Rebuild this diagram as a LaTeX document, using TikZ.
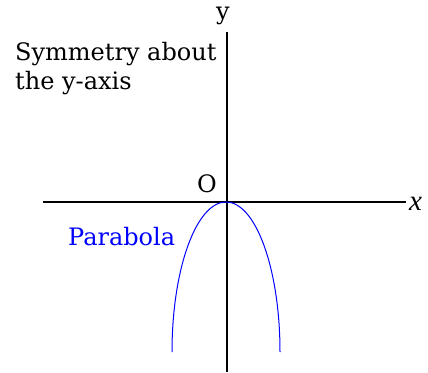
\documentclass[tikz,border=0pt]{standalone}
\usepackage{fontspec}
\setmainfont{DejaVu Serif}
\newfontfamily\xfont{Liberation Serif}
\begin{document}
\begin{tikzpicture}[x=1pt,y=-1pt,
  axis/.style={line width=1.4pt,black},
  curve/.style={line width=1pt,blue},
  lbl/.style={inner sep=0pt,anchor=base west,font=\fontsize{24}{28}\selectfont}]
\useasboundingbox (0,0) rectangle (428,372);
\coordinate (xl) at (43,202);
\coordinate (xr) at (406,202);
\coordinate (yt) at (227,32);
\coordinate (yb) at (227,372);
\draw[axis] (xl) -- (xr);
\draw[axis] (yt) -- (yb);
\node[inner sep=0pt,anchor=base west,font=\xfont\itshape\fontsize{29}{31}\selectfont] (xlab) at (409,210) {x};
\node[lbl] (ylab) at (216,19) {y};
\node[lbl] (olab) at (197,192) {O};
\node[lbl] (sym1) at (15,60) {Symmetry about};
\node[lbl] (sym2) at (15,89) {the y-axis};
\node[lbl,blue] (par) at (68,245) {Parabola};
\coordinate (v) at (226,202);
\coordinate (pl) at (172,352);
\coordinate (pr) at (280,352);
\draw[curve] (pl) .. controls (172,269.2) and (196.2,202) .. (v) .. controls (255.8,202) and (280,269.2) .. (pr);
\end{tikzpicture}
\end{document}
